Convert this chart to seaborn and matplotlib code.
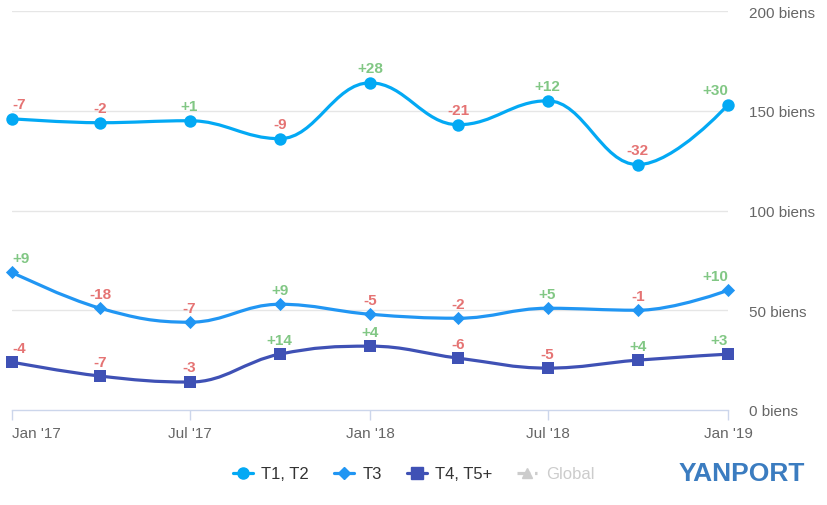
import numpy as np
import pandas as pd
import matplotlib
matplotlib.use("Agg")
import matplotlib.pyplot as plt
import matplotlib.dates as mdates
from matplotlib.path import Path
from matplotlib.patches import PathPatch
from matplotlib.lines import Line2D
import seaborn as sns

# ---------------- data ----------------
dates = ["2017-01-01", "2017-04-01", "2017-07-01", "2017-10-01", "2018-01-01",
         "2018-04-01", "2018-07-01", "2018-10-01", "2019-01-01"]
t12_values = [146, 144, 145, 136, 164, 143, 155, 123, 153]
t12_changes = [-7, -2, 1, -9, 28, -21, 12, -32, 30]
t3_values = [69, 51, 44, 53, 48, 46, 51, 50, 60]
t3_changes = [9, -18, -7, 9, -5, -2, 5, -1, 10]
t45_values = [24, 17, 14, 28, 32, 26, 21, 25, 28]
t45_changes = [-4, -7, -3, 14, 4, -6, -5, 4, 3]
series_names = ["T1, T2", "T3", "T4, T5+", "Global"]
tick_dates = ["2017-01-01", "2017-07-01", "2018-01-01", "2018-07-01", "2019-01-01"]
tick_labels = ["Jan '17", "Jul '17", "Jan '18", "Jul '18", "Jan '19"]
y_ticks = [0, 50, 100, 150, 200]
y_tick_labels = ["0 biens", "50 biens", "100 biens", "150 biens", "200 biens"]

colors = ["#03a9f4", "#2196f3", "#3f51b5"]
markers = ["o", "D", "s"]
msizes = [80, 45, 85]
POS = "#81c784"
NEG = "#e57373"

sns.set_theme(style="white")
plt.rcParams["font.family"] = ["Liberation Sans", "DejaVu Sans"]

fig = plt.figure(figsize=(8.27, 5.06), dpi=100)
ax = fig.add_axes([12 / 827, 1 - 411 / 506, (728 - 12) / 827, (411 - 12) / 506])

x_dt = pd.to_datetime(dates)
xnum = mdates.date2num(x_dt)


def spline_path(xs, ys, smoothing=1.5):
    n = len(xs)
    denom = smoothing + 1
    lc = [(xs[i], ys[i]) for i in range(n)]
    rc = [(xs[i], ys[i]) for i in range(n)]
    for i in range(1, n - 1):
        px, py = xs[i], ys[i]
        lx, ly = xs[i - 1], ys[i - 1]
        nx, ny = xs[i + 1], ys[i + 1]
        lcx = (smoothing * px + lx) / denom
        lcy = (smoothing * py + ly) / denom
        rcx = (smoothing * px + nx) / denom
        rcy = (smoothing * py + ny) / denom
        if rcx != lcx:
            corr = ((rcy - lcy) * (rcx - px)) / (rcx - lcx) + py - rcy
            lcy += corr
            rcy += corr
        if lcy > ly and lcy > py:
            lcy = max(ly, py)
            rcy = 2 * py - lcy
        elif lcy < ly and lcy < py:
            lcy = min(ly, py)
            rcy = 2 * py - lcy
        if rcy > ny and rcy > py:
            rcy = max(ny, py)
            lcy = 2 * py - rcy
        elif rcy < ny and rcy < py:
            rcy = min(ny, py)
            lcy = 2 * py - rcy
        lc[i] = (lcx, lcy)
        rc[i] = (rcx, rcy)
    verts = [(xs[0], ys[0])]
    codes = [Path.MOVETO]
    for i in range(1, n):
        verts += [rc[i - 1], lc[i], (xs[i], ys[i])]
        codes += [Path.CURVE4] * 3
    return Path(verts, codes)


# grid lines
for yv in y_ticks[1:]:
    ax.axhline(yv, color="#e6e6e6", lw=1, zorder=0)

all_vals = [t12_values, t3_values, t45_values]
all_chg = [t12_changes, t3_changes, t45_changes]
for k in range(3):
    vals = np.array(all_vals[k], dtype=float)
    p = spline_path(list(xnum), list(vals))
    ax.add_patch(PathPatch(p, facecolor="none", edgecolor=colors[k], lw=2.3,
                           zorder=2, capstyle="round", joinstyle="round",
                           clip_on=False))
    df = pd.DataFrame({"date": x_dt, "value": vals})
    n_before = len(ax.collections)
    sns.scatterplot(data=df, x="date", y="value", ax=ax, marker=markers[k],
                    s=msizes[k], color=colors[k], edgecolor=colors[k],
                    linewidth=0, zorder=3, legend=False)
    for coll in ax.collections[n_before:]:
        coll.set_clip_on(False)
    for i, (xd, v, c) in enumerate(zip(x_dt, vals, all_chg[k])):
        txt = f"+{c}" if c > 0 else f"{c}"
        ha = "left" if i == 0 else ("right" if i == len(vals) - 1 else "center")
        ax.annotate(txt, (mdates.date2num(xd), v), xytext=(0, 10.5),
                    textcoords="offset points", ha=ha, va="center",
                    fontsize=11, fontweight="bold",
                    color=POS if c > 0 else NEG, zorder=4)

ax.set_xlim(xnum[0], xnum[-1])
ax.set_ylim(0, 200)
for s in ["top", "left", "right"]:
    ax.spines[s].set_visible(False)
ax.spines["bottom"].set_color("#ccd6eb")
ax.spines["bottom"].set_linewidth(1)
ax.set_xlabel("")
ax.set_ylabel("")

tnum = mdates.date2num(pd.to_datetime(tick_dates))
ax.set_xticks(tnum)
ax.set_xticklabels(tick_labels, fontsize=11, color="#666666")
ax.tick_params(axis="x", bottom=True, length=7.5, width=1, color="#ccd6eb", pad=4)
xl = ax.get_xticklabels()
xl[0].set_horizontalalignment("left")

ax.yaxis.tick_right()
ax.set_yticks(y_ticks)
ax.set_yticklabels(y_tick_labels, fontsize=11, color="#666666")
ax.tick_params(axis="y", right=False, left=False, length=0, pad=15)
for lab in ax.get_yticklabels():
    lab.set_horizontalalignment("left")

handles = [
    Line2D([], [], color=colors[0], lw=2.3, marker="o", markersize=8),
    Line2D([], [], color=colors[1], lw=2.3, marker="D", markersize=6),
    Line2D([], [], color=colors[2], lw=2.3, marker="s", markersize=8),
    Line2D([], [], color="#cccccc", lw=2.3, marker="^", markersize=7, linestyle=(0, (4, 1.5, 1, 1.5))),
]
leg = fig.legend(handles, series_names, loc="center", bbox_to_anchor=(0.5, 1 - 475 / 506),
                 ncol=4, frameon=False, fontsize=12, handlelength=1.2,
                 handletextpad=0.5, columnspacing=1.5)
for t, c in zip(leg.get_texts(), ["#333333", "#333333", "#333333", "#cccccc"]):
    t.set_color(c)

fig.text(742 / 827, 1 - 474 / 506, "YANPORT", ha="center", va="center",
         fontsize=19, fontweight="bold", color="#3b7cc0",
         family=["Liberation Sans", "DejaVu Sans"])

fig.savefig("out.png", dpi=100, facecolor="white")
